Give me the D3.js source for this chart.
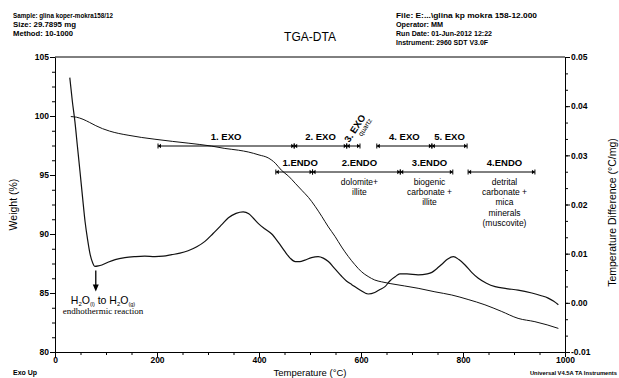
<!DOCTYPE html>
<html>
<head>
<meta charset="utf-8">
<script src="https://cdn.jsdelivr.net/npm/d3@7"></script>
<style>
  body { margin: 0; background: #fff; }
  svg { display: block; font-family: "Liberation Sans", Arial, sans-serif; }
</style>
</head>
<body>
<svg id="chart" width="619" height="378"></svg>
<script>
// TGA (weight %)
const tgaTemp = [31, 42, 55, 68, 80, 93, 107, 125, 145, 170, 196, 230, 261, 307, 333, 360, 379, 400, 418, 432, 444,
  458, 471, 484, 497, 510, 523, 536, 549, 562, 575, 588, 601, 614, 627, 640, 657, 685, 712, 745, 778,
  810, 843, 875, 908, 941, 965, 987];
const tgaWeight = [99.95, 99.9, 99.72, 99.45, 99.18, 98.93, 98.72, 98.52, 98.36, 98.18, 98.03, 97.85, 97.7, 97.45, 97.25, 97.1, 96.95, 96.7, 96.45, 96.0, 95.4,
  94.9, 94.3, 93.7, 93.1, 92.35, 91.5, 90.6, 89.8, 88.9, 88.1, 87.4, 86.8, 86.4, 86.1, 85.95, 85.8, 85.6, 85.4, 85.1, 84.83,
  84.45, 84.0, 83.45, 82.85, 82.57, 82.3, 82.0];

// DTA (temperature difference, °C/mg)
const dtaTemp = [29, 34, 39, 44, 49, 54, 59, 64, 69, 74, 78, 85, 92, 105, 118, 137, 157, 176, 196, 212,
  229, 245, 261, 278, 294, 310, 327, 340, 355, 369, 380, 389, 400, 412, 425, 438, 451, 461, 471, 480,
  490, 503, 516, 526, 536, 549, 562, 572, 582, 598, 614, 627, 637, 647, 657, 667, 676, 690, 712, 730,
  739, 748, 758, 770, 781, 792, 804, 817, 830, 846, 863, 885, 908, 935, 952, 967, 978, 987];
const dtaDiff = [0.0458, 0.041, 0.0369, 0.0318, 0.0267, 0.0215, 0.0165, 0.0128, 0.0098, 0.0081, 0.0074, 0.0075, 0.0077, 0.0083, 0.0088, 0.0092, 0.0094, 0.0095, 0.0094, 0.0095,
  0.0098, 0.0101, 0.0106, 0.0114, 0.0125, 0.0141, 0.0159, 0.0173, 0.0182, 0.0185, 0.0181, 0.0172, 0.0160, 0.0150, 0.0140, 0.0123, 0.0104, 0.0091, 0.0084, 0.0084,
  0.0087, 0.0092, 0.0094, 0.0091, 0.0084, 0.0069, 0.0054, 0.0044, 0.0037, 0.0026, 0.0018, 0.0021, 0.0027, 0.0033, 0.0045, 0.0053, 0.0059, 0.0059, 0.0057, 0.0059,
  0.0062, 0.0069, 0.0078, 0.0089, 0.0094, 0.0088, 0.0077, 0.0062, 0.0050, 0.0040, 0.0033, 0.0029, 0.0026, 0.0020, 0.0015, 0.00096, 0.0003, -0.0004];

// exothermic / endothermic event ranges (°C)
const exoNames = ['1. EXO', '2. EXO', '3. EXO', '4. EXO', '5. EXO'];
const exoStart = [202, 469, 572, 631, 739];
const exoEnd = [469, 572, 598, 739, 808];
const endoNames = ['1.ENDO', '2.ENDO', '3.ENDO', '4.ENDO'];
const endoStart = [433, 505, 677, 810];
const endoEnd = [505, 677, 780, 941];
const endoNotes = [[], ['dolomite+', 'illite'], ['biogenic', 'carbonate +', 'illite'],
  ['detrital', 'carbonate +', 'mica', 'minerals', '(muscovite)']];

const xTicks = [0, 200, 400, 600, 800, 1000];
const weightTicks = [80, 85, 90, 95, 100, 105];
const diffTicks = [-0.01, 0, 0.01, 0.02, 0.03, 0.04, 0.05];

const headerLeft = ['Sample: glina koper-mokra158/12', 'Size:  29.7895 mg', 'Method: 10-1000'];
const headerRight = ['File: E:...\\glina kp mokra 158-12.000', 'Operator: MM', 'Run Date: 01-Jun-2012 12:22', 'Instrument: 2960 SDT V3.0F'];

const margin = { top: 57, right: 54, bottom: 26, left: 55 };
const width = 619, height = 378;
const svg = d3.select('#chart');

const x = d3.scaleLinear().domain([0, 1000]).range([margin.left, width - margin.right]);
const yW = d3.scaleLinear().domain([80, 105]).range([height - margin.bottom, margin.top]);
const yD = d3.scaleLinear().domain([-0.01, 0.05]).range([height - margin.bottom, margin.top]);

// header texts
const hl = svg.append('g').attr('font-size', 7.5).attr('font-weight', 'bold');
const leftWidths = [100, 63, 60];
headerLeft.forEach((t, i) => {
  hl.append('text').attr('x', 13).attr('y', 17.5 + i * 9.2).text(t)
    .attr('textLength', leftWidths[i]).attr('lengthAdjust', 'spacingAndGlyphs');
});
const rightWidths = [141, 47, 96, 92];
headerRight.forEach((t, i) => {
  hl.append('text').attr('x', 396).attr('y', 17.5 + i * 9).text(t)
    .attr('textLength', rightWidths[i]).attr('lengthAdjust', 'spacingAndGlyphs');
});
svg.append('text').attr('x', 310).attr('y', 41).attr('text-anchor', 'middle')
  .attr('font-size', 12).text('TGA-DTA');

// axes
function styleAxis(g) {
  g.selectAll('path, line').attr('stroke', '#000').attr('stroke-width', 1);
  g.selectAll('text').attr('fill', '#000').attr('font-size', 8.5).attr('font-weight', 'bold')
    .attr('font-family', '"Liberation Sans", Arial, sans-serif');
}

const yBottom = height - margin.bottom;
svg.append('g').attr('transform', `translate(0,${yBottom})`)
  .call(d3.axisBottom(x).tickValues(d3.range(0, 1001, 50)).tickSize(3).tickSizeOuter(0).tickFormat(''))
  .call(g => g.select('.domain').remove()).call(styleAxis);
svg.append('g').attr('transform', `translate(0,${yBottom})`)
  .call(d3.axisBottom(x).tickValues(xTicks).tickSize(5).tickSizeOuter(0).tickFormat(d3.format('d')))
  .call(styleAxis)
  .call(g => g.selectAll('text').attr('y', 4.5));

svg.append('g').attr('transform', `translate(${margin.left},0)`)
  .call(d3.axisLeft(yW).tickValues(d3.range(80, 105.01, 1.25)).tickSize(3).tickSizeOuter(0).tickFormat(''))
  .call(g => g.select('.domain').remove()).call(styleAxis);
svg.append('g').attr('transform', `translate(${margin.left},0)`)
  .call(d3.axisLeft(yW).tickValues(weightTicks).tickSize(5).tickSizeOuter(0).tickPadding(1))
  .call(styleAxis);

const xRight = width - margin.right;
svg.append('g').attr('transform', `translate(${xRight},0)`)
  .call(d3.axisRight(yD).tickValues(d3.range(0, 19).map(i => -0.01 + i * 0.01 / 3)).tickSize(3).tickSizeOuter(0).tickFormat(''))
  .call(g => g.select('.domain').remove()).call(styleAxis);
svg.append('g').attr('transform', `translate(${xRight},0)`)
  .call(d3.axisRight(yD).tickValues(diffTicks).tickSize(5).tickSizeOuter(0).tickPadding(1)
    .tickFormat(d => d.toFixed(2)))
  .call(styleAxis);

// top frame line
svg.append('line').attr('x1', x(0)).attr('x2', x(1000)).attr('y1', margin.top).attr('y2', margin.top)
  .attr('stroke', '#000');

// axis titles
svg.append('text').attr('transform', `translate(17,${(margin.top + yBottom) / 2}) rotate(-90)`)
  .attr('text-anchor', 'middle').attr('font-size', 10.5).text('Weight (%)');
svg.append('text').attr('transform', `translate(616,${(margin.top + yBottom) / 2 + 8}) rotate(-90)`)
  .attr('text-anchor', 'middle').attr('font-size', 10.5).text('Temperature Difference (°C/mg)');
svg.append('text').attr('x', 310).attr('y', 376).attr('text-anchor', 'middle')
  .attr('font-size', 9.5).text('Temperature (°C)');
svg.append('text').attr('x', 13).attr('y', 375).attr('font-size', 7).attr('font-weight', 'bold').text('Exo Up');
svg.append('text').attr('x', 617).attr('y', 375).attr('text-anchor', 'end')
  .attr('font-size', 5.8).attr('font-weight', 'bold').text('Universal V4.5A TA Instruments');

// curves
const tga = tgaTemp.map((t, i) => [t, tgaWeight[i]]);
const dta = dtaTemp.map((t, i) => [t, dtaDiff[i]]);
svg.append('path').datum(tga)
  .attr('d', d3.line().x(d => x(d[0])).y(d => yW(d[1])).curve(d3.curveMonotoneX))
  .attr('fill', 'none').attr('stroke', '#111').attr('stroke-width', 1);
svg.append('path').datum(dta)
  .attr('d', d3.line().x(d => x(d[0])).y(d => yD(d[1])).curve(d3.curveMonotoneX))
  .attr('fill', 'none').attr('stroke', '#111').attr('stroke-width', 1.2);

// event range bars
function rangeBar(g, t1, t2, yy) {
  const a = x(t1), b = x(t2);
  g.append('line').attr('x1', a).attr('x2', b).attr('y1', yy).attr('y2', yy).attr('stroke', '#000');
  g.append('line').attr('x1', a).attr('x2', a).attr('y1', yy - 2.5).attr('y2', yy + 2.5).attr('stroke', '#000');
  g.append('line').attr('x1', b).attr('x2', b).attr('y1', yy - 2.5).attr('y2', yy + 2.5).attr('stroke', '#000');
  g.append('path').attr('d', `M${a},${yy}L${a + 3},${yy - 2.2}L${a + 3},${yy + 2.2}Z`).attr('fill', '#000');
  g.append('path').attr('d', `M${b},${yy}L${b - 3},${yy - 2.2}L${b - 3},${yy + 2.2}Z`).attr('fill', '#000');
}

const exoY = 146, endoY = 172;
const ev = svg.append('g');
exoNames.forEach((name, i) => {
  rangeBar(ev, exoStart[i], exoEnd[i], exoY);
  const mid = x((exoStart[i] + exoEnd[i]) / 2);
  if (name === '3. EXO') {
    const r = ev.append('g').attr('transform', `translate(${mid - 4},${exoY - 3}) rotate(-57)`);
    r.append('text').attr('font-size', 9.5).attr('font-weight', 'bold').text(name);
    r.append('text').attr('x', 12).attr('y', 7).attr('font-size', 7).text('quartz');
  } else {
    ev.append('text').attr('x', mid).attr('y', exoY - 6).attr('text-anchor', 'middle')
      .attr('font-size', 9.5).attr('font-weight', 'bold').text(name);
  }
});
endoNames.forEach((name, i) => {
  rangeBar(ev, endoStart[i], endoEnd[i], endoY);
  const mid = x((endoStart[i] + endoEnd[i]) / 2);
  ev.append('text').attr('x', mid + (i === 0 ? 6 : 3)).attr('y', endoY - 6).attr('text-anchor', 'middle')
    .attr('font-size', 9.5).attr('font-weight', 'bold').text(name);
  endoNotes[i].forEach((n, j) => {
    ev.append('text').attr('x', mid + 3).attr('y', endoY + 13 + j * 10.2).attr('text-anchor', 'middle')
      .attr('font-size', 8.5).text(n);
  });
});

// water loss annotation at DTA minimum
const minIdx = d3.minIndex(dtaDiff.slice(0, 20));
const ax = x(dtaTemp[minIdx]) + 1, ay = yD(dtaDiff[minIdx]) + 4;
svg.append('line').attr('x1', ax).attr('x2', ax).attr('y1', ay).attr('y2', ay + 16).attr('stroke', '#000').attr('stroke-width', 1.3);
svg.append('path').attr('d', `M${ax},${ay + 21}L${ax - 3},${ay + 14}L${ax + 3},${ay + 14}Z`).attr('fill', '#000');

const h2o = svg.append('text').attr('x', 103).attr('y', 303.5).attr('text-anchor', 'middle').attr('font-size', 10.5);
h2o.append('tspan').text('H');
h2o.append('tspan').attr('font-size', 6).attr('dy', 2).text('2');
h2o.append('tspan').attr('dy', -2).text('O');
h2o.append('tspan').attr('font-size', 5.5).attr('dy', 2).text('(l)');
h2o.append('tspan').attr('dy', -2).text(' to H');
h2o.append('tspan').attr('font-size', 6).attr('dy', 2).text('2');
h2o.append('tspan').attr('dy', -2).text('O');
h2o.append('tspan').attr('font-size', 5.5).attr('dy', 2).text('(g)');
svg.append('text').attr('x', 103).attr('y', 313.5).attr('text-anchor', 'middle')
  .attr('font-family', '"Liberation Serif", "Times New Roman", serif').attr('font-size', 9)
  .text('endhothermic reaction');
</script>
</body>
</html>
